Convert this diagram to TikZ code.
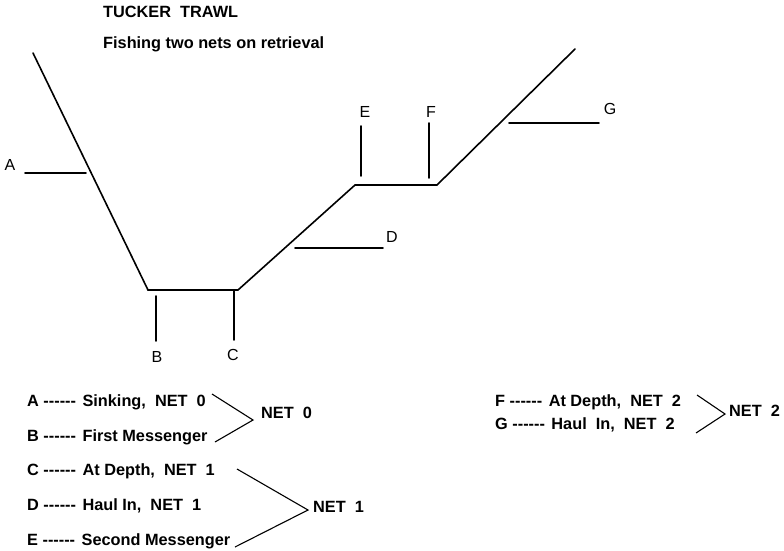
\documentclass[tikz,border=0pt]{standalone}
\usepackage{fontspec}
\setmainfont{Liberation Sans}
\newcommand\dsh{-{}-{}-{}-{}-{}-\hspace{6.5pt}}
\begin{document}
\begin{tikzpicture}[x=1pt,y=-1pt,
  wire/.style={line width=1.6pt,line cap=round},
  lbl/.style={font=\fontsize{16}{18}\selectfont,inner sep=0pt},
  txt/.style={font=\fontsize{16.3}{19}\selectfont\bfseries,inner sep=0pt,anchor=west}]
\useasboundingbox (0,0) rectangle (784,550);
% title
\node[txt] (t1) at (103,12) {TUCKER\ \ TRAWL};
\node[txt] (t2) at (103,44) {Fishing two nets on retrieval};
% trawl path
\coordinate (p0) at (33,53);
\coordinate (p1) at (148,290);
\coordinate (p2) at (238,290);
\coordinate (p3) at (355,185);
\coordinate (p4) at (437,185);
\coordinate (p5) at (575,49);
\draw[wire,line join=miter] (p0) -- (p1) -- (p2) -- (p3) -- (p4) -- (p5);
% markers
\coordinate (a1) at (25,173); \coordinate (a2) at (86,173);
\coordinate (b1) at (156,296); \coordinate (b2) at (156,341);
\coordinate (c1) at (234,291); \coordinate (c2) at (234,340);
\coordinate (d1) at (295,248); \coordinate (d2) at (383,248);
\coordinate (e1) at (361,126); \coordinate (e2) at (361,176);
\coordinate (f1) at (429,123); \coordinate (f2) at (429,178);
\coordinate (g1) at (509,123); \coordinate (g2) at (599,123);
\foreach \m in {a,b,c,d,e,f,g} \draw[wire] (\m1) -- (\m2);
\node[lbl] (la) at (10,165) {A};
\node[lbl] (lb) at (157,357) {B};
\node[lbl] (lc) at (233,355) {C};
\node[lbl] (ld) at (392,237) {D};
\node[lbl] (le) at (365,112) {E};
\node[lbl] (lf) at (431,112) {F};
\node[lbl] (lg) at (610,109) {G};
% legend
\node[txt] (ra) at (27,402) {A \dsh Sinking,\ \ NET\ \ 0};
\node[txt] (rb) at (27,437) {B \dsh First Messenger};
\node[txt] (rc) at (27,471) {C \dsh At Depth,\ \ NET\ \ 1};
\node[txt] (rd) at (27,506) {D \dsh Haul In,\ \ NET\ \ 1};
\node[txt] (re) at (27,541) {E \dsh Second Messenger};
\node[txt] (rf) at (495,402) {F \dsh At Depth,\ \ NET\ \ 2};
\node[txt] (rg) at (495,425) {G \dsh Haul\ \ In,\ \ NET\ \ 2};
% brackets
\coordinate (n0a) at (212,394); \coordinate (n0v) at (253,420); \coordinate (n0b) at (215,442);
\coordinate (n1a) at (237,469); \coordinate (n1v) at (308,510); \coordinate (n1b) at (235,547);
\coordinate (n2a) at (697,395); \coordinate (n2v) at (725,414); \coordinate (n2b) at (696,433);
\draw[line width=1.1pt] (n0a) -- (n0v) -- (n0b);
\draw[line width=1.1pt] (n1a) -- (n1v) -- (n1b);
\draw[line width=1.1pt] (n2a) -- (n2v) -- (n2b);
\node[txt] (net0) at (261,413) {NET\ \ 0};
\node[txt] (net1) at (313,507) {NET\ \ 1};
\node[txt] (net2) at (729,411) {NET\ \ 2};
\end{tikzpicture}
\end{document}
